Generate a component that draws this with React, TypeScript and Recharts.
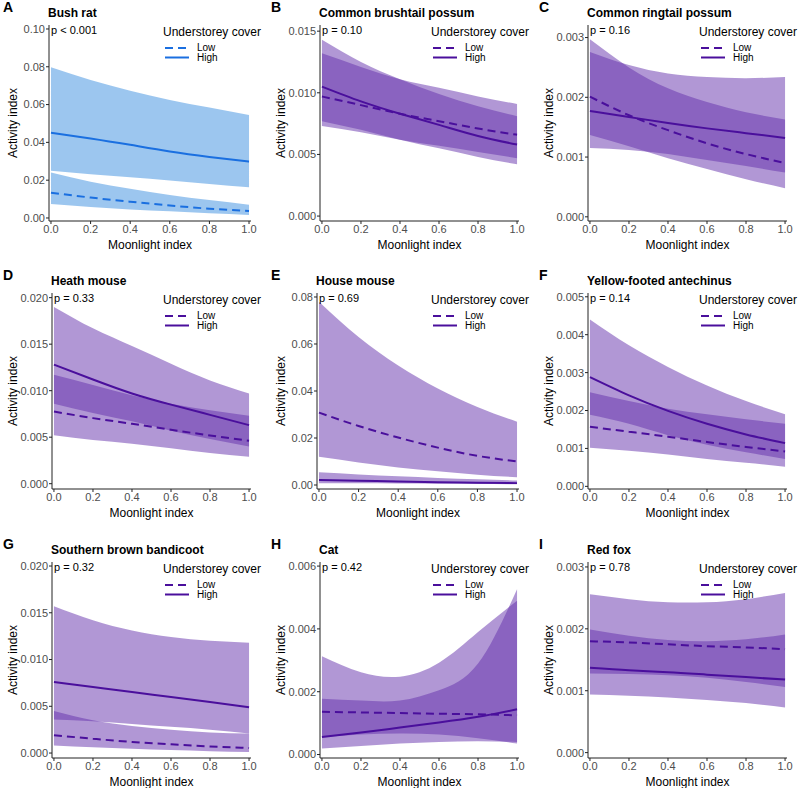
import { ComposedChart, Area, Line, XAxis, YAxis } from 'recharts'

// moonlight index positions the fitted curves were read at
const moonlight = [0, 0.2, 0.4, 0.6, 0.8, 1]
const xTicks = [0, 0.2, 0.4, 0.6, 0.8, 1]

// fitted activity + 95% CI for low / high understorey cover
const bushRat = {
  lowFit: [0.0134, 0.0108, 0.0086, 0.0066, 0.0049, 0.0037],
  lowLo: [0.0074, 0.0058, 0.0045, 0.0035, 0.0025, 0.0016],
  lowHi: [0.024, 0.0192, 0.0155, 0.0122, 0.0095, 0.007],
  highFit: [0.0451, 0.0421, 0.0387, 0.0352, 0.0323, 0.0298],
  highLo: [0.025, 0.0232, 0.0215, 0.0198, 0.018, 0.0162],
  highHi: [0.0797, 0.073, 0.0673, 0.0624, 0.0584, 0.0545],
}
const brushtail = {
  lowFit: [0.0097, 0.009, 0.0083, 0.0077, 0.0071, 0.0066],
  lowLo: [0.0073, 0.0068, 0.0062, 0.0057, 0.0052, 0.0047],
  lowHi: [0.0132, 0.0121, 0.0111, 0.0104, 0.0097, 0.0091],
  highFit: [0.0105, 0.0093, 0.0083, 0.0074, 0.0065, 0.0058],
  highLo: [0.0077, 0.007, 0.0062, 0.0055, 0.0048, 0.0042],
  highHi: [0.0143, 0.0125, 0.0111, 0.0099, 0.0089, 0.0081],
}
const ringtail = {
  lowFit: [0.00201, 0.0017, 0.00145, 0.00123, 0.00105, 0.0009],
  lowLo: [0.00137, 0.00118, 0.00098, 0.0008, 0.00063, 0.00048],
  lowHi: [0.00297, 0.0025, 0.00215, 0.00192, 0.00175, 0.00163],
  highFit: [0.00177, 0.00167, 0.00157, 0.00148, 0.0014, 0.00132],
  highLo: [0.00115, 0.00112, 0.00105, 0.00095, 0.00085, 0.00074],
  highHi: [0.00276, 0.00254, 0.0024, 0.00234, 0.00232, 0.00234],
}
const heathMouse = {
  lowFit: [0.00776, 0.00705, 0.00644, 0.0058, 0.00519, 0.00462],
  lowLo: [0.0052, 0.0047, 0.0043, 0.0038, 0.0033, 0.0029],
  lowHi: [0.0117, 0.0106, 0.0095, 0.0086, 0.0079, 0.0073],
  highFit: [0.0128, 0.0112, 0.0097, 0.0085, 0.0074, 0.0063],
  highLo: [0.0086, 0.0076, 0.0067, 0.0057, 0.0048, 0.004],
  highHi: [0.019, 0.0167, 0.0148, 0.0129, 0.0111, 0.0097],
}
const houseMouse = {
  lowFit: [0.0308, 0.0251, 0.0202, 0.0159, 0.0124, 0.01],
  lowLo: [0.012, 0.0096, 0.0075, 0.0058, 0.0044, 0.0033],
  lowHi: [0.078, 0.063, 0.0509, 0.0411, 0.0332, 0.0269],
  highFit: [0.0021, 0.0018, 0.0015, 0.0012, 0.001, 0.0008],
  highLo: [0.0008, 0.0007, 0.0006, 0.0005, 0.0004, 0.0003],
  highHi: [0.0054, 0.0045, 0.0037, 0.003, 0.0024, 0.0019],
}
const antechinus = {
  lowFit: [0.00157, 0.00144, 0.00131, 0.00117, 0.00104, 0.00092],
  lowLo: [0.00102, 0.00094, 0.00084, 0.00072, 0.00062, 0.00052],
  lowHi: [0.00248, 0.00225, 0.00205, 0.0019, 0.00177, 0.00165],
  highFit: [0.00288, 0.0024, 0.00199, 0.00165, 0.00137, 0.00114],
  highLo: [0.00189, 0.00165, 0.00135, 0.0011, 0.0009, 0.00072],
  highHi: [0.0044, 0.00372, 0.00315, 0.00266, 0.00225, 0.0019],
}
const bandicoot = {
  lowFit: [0.0019, 0.00153, 0.00118, 0.00093, 0.00071, 0.00053],
  lowLo: [0.00082, 0.00062, 0.00045, 0.00032, 0.0002, 0.0001],
  lowHi: [0.0045, 0.0035, 0.0029, 0.0025, 0.0022, 0.0021],
  highFit: [0.0076, 0.00706, 0.00652, 0.00599, 0.00545, 0.0049],
  highLo: [0.0036, 0.0034, 0.0031, 0.0028, 0.0025, 0.0021],
  highHi: [0.0157, 0.0142, 0.0131, 0.0124, 0.012, 0.0118],
}
const cat = {
  lowFit: [0.00136, 0.00134, 0.00132, 0.0013, 0.00128, 0.00125],
  lowLo: [0.00056, 0.00064, 0.00067, 0.00064, 0.00052, 0.00035],
  lowHi: [0.00313, 0.00262, 0.00248, 0.00292, 0.0039, 0.0049],
  highFit: [0.00056, 0.0007, 0.00086, 0.00102, 0.0012, 0.00144],
  highLo: [0.00019, 0.00027, 0.00035, 0.0004, 0.00042, 0.0004],
  highHi: [0.00178, 0.00172, 0.00172, 0.00205, 0.0029, 0.00526],
}
const redFox = {
  lowFit: [0.0018, 0.00178, 0.00175, 0.00172, 0.0017, 0.00167],
  lowLo: [0.00128, 0.00127, 0.00125, 0.00121, 0.00114, 0.00106],
  lowHi: [0.00256, 0.00248, 0.00243, 0.00243, 0.00248, 0.00258],
  highFit: [0.00137, 0.00133, 0.0013, 0.00126, 0.00122, 0.00118],
  highLo: [0.00094, 0.00092, 0.00089, 0.00085, 0.0008, 0.00073],
  highHi: [0.00199, 0.00189, 0.00182, 0.0018, 0.00183, 0.00191],
}

const letters = ['A', 'B', 'C', 'D', 'E', 'F', 'G', 'H', 'I']
const titles = [
  'Bush rat', 'Common brushtail possum', 'Common ringtail possum',
  'Heath mouse', 'House mouse', 'Yellow-footed antechinus',
  'Southern brown bandicoot', 'Cat', 'Red fox',
]
const pValues = ['p < 0.001', 'p = 0.10', 'p = 0.16', 'p = 0.33', 'p = 0.69', 'p = 0.14', 'p = 0.32', 'p = 0.42', 'p = 0.78']
const species = [bushRat, brushtail, ringtail, heathMouse, houseMouse, antechinus, bandicoot, cat, redFox]
const yTicks = [
  [0, 0.02, 0.04, 0.06, 0.08, 0.1],
  [0, 0.005, 0.01, 0.015],
  [0, 0.001, 0.002, 0.003],
  [0, 0.005, 0.01, 0.015, 0.02],
  [0, 0.02, 0.04, 0.06, 0.08],
  [0, 0.001, 0.002, 0.003, 0.004, 0.005],
  [0, 0.005, 0.01, 0.015, 0.02],
  [0, 0.002, 0.004, 0.006],
  [0, 0.001, 0.002, 0.003],
]
const yDomains = [
  [-0.0016, 0.1021],
  [-0.0004, 0.0155],
  [-0.00007, 0.00321],
  [-0.00057, 0.0205],
  [-0.0017, 0.0817],
  [-0.00007, 0.0051],
  [-0.00053, 0.02043],
  [-0.00011, 0.00613],
  [-0.000087, 0.00308],
]
const yDecimals = [2, 3, 3, 3, 2, 3, 3, 3, 3]

const colLeft = [0, 268, 536]
const rowTop = [0, 268, 537]
const PANEL_W = 263
const PANEL_H = 262

function Panel({ i }: { i: number }) {
  const s = species[i]
  const blue = i === 0
  const bandFill = blue ? '#3a8de0' : '#632fab'
  const lineColor = blue ? '#1a6fe0' : '#4a0f9c'
  const dec = yDecimals[i]
  const yW = dec === 2 ? 49 : 52

  const rows = moonlight.map((x, k) => ({
    x,
    low: s.lowFit[k],
    high: s.highFit[k],
    lowBand: [s.lowLo[k], s.lowHi[k]],
    highBand: [s.highLo[k], s.highHi[k]],
  }))

  const left = colLeft[i % 3]
  const top = rowTop[Math.floor(i / 3)]

  return (
    <div style={{ position: 'absolute', left, top, width: PANEL_W, height: PANEL_H }}>
      <ComposedChart width={PANEL_W} height={PANEL_H} data={rows} margin={{ top: 25, right: 12, bottom: 1, left: 0 }}>
        <XAxis
          type="number"
          dataKey="x"
          domain={[-0.01, 1.01]}
          ticks={xTicks}
          allowDataOverflow
          tickFormatter={(v: number) => v.toFixed(1)}
          height={40}
          tickSize={3}
          tickMargin={1}
          stroke="#222"
          tick={{ fontSize: 11, fill: '#4d4d4d' }}
          label={{ value: 'Moonlight index', position: 'insideBottom', offset: 12, fontSize: 12, fill: '#000' }}
        />
        <YAxis
          type="number"
          domain={yDomains[i]}
          ticks={yTicks[i]}
          allowDataOverflow
          tickFormatter={(v: number) => v.toFixed(dec)}
          width={yW}
          tickSize={3}
          tickMargin={1}
          stroke="#222"
          tick={{ fontSize: 11, fill: '#4d4d4d' }}
          label={{ value: 'Activity index', angle: -90, position: 'insideLeft', offset: 13, fontSize: 12, fill: '#000', style: { textAnchor: 'middle' } }}
        />
        <Area type="natural" dataKey="lowBand" stroke="none" fill={bandFill} fillOpacity={0.5} isAnimationActive={false} dot={false} activeDot={false} />
        <Area type="natural" dataKey="highBand" stroke="none" fill={bandFill} fillOpacity={0.5} isAnimationActive={false} dot={false} activeDot={false} />
        <Line type="natural" dataKey="low" stroke={lineColor} strokeWidth={2} strokeDasharray="8 5" dot={false} activeDot={false} isAnimationActive={false} />
        <Line type="natural" dataKey="high" stroke={lineColor} strokeWidth={2} dot={false} activeDot={false} isAnimationActive={false} />
      </ComposedChart>

      <div style={{ position: 'absolute', left: 3, top: 0, fontSize: 14, lineHeight: '14px', fontWeight: 700 }}>{letters[i]}</div>
      <div style={{ position: 'absolute', left: yW - 1, top: 6, fontSize: 12, lineHeight: '14px', fontWeight: 700, whiteSpace: 'nowrap' }}>{titles[i]}</div>
      <div style={{ position: 'absolute', left: yW + 2, top: 23, fontSize: 11, lineHeight: '14px', whiteSpace: 'nowrap' }}>{pValues[i]}</div>

      <div style={{ position: 'absolute', left: 163, top: 25, fontSize: 12, lineHeight: '14px', whiteSpace: 'nowrap' }}>Understorey cover</div>
      <svg style={{ position: 'absolute', left: 165, top: 42 }} width={26} height={20}>
        <line x1={0} x2={24} y1={6} y2={6} stroke={lineColor} strokeWidth={2} strokeDasharray="8 5" />
        <line x1={0} x2={24} y1={15.5} y2={15.5} stroke={lineColor} strokeWidth={2} />
      </svg>
      <div style={{ position: 'absolute', left: 197, top: 42, fontSize: 10, lineHeight: '12px' }}>Low</div>
      <div style={{ position: 'absolute', left: 197, top: 51.5, fontSize: 10, lineHeight: '12px' }}>High</div>
    </div>
  )
}

export default function App() {
  return (
    <div
      style={{
        position: 'fixed',
        left: 0,
        top: 0,
        width: 799,
        height: 788,
        overflow: 'hidden',
        background: '#fff',
        color: '#000',
        fontFamily: '"Liberation Sans", Arial, sans-serif',
      }}
    >
      {letters.map((_, i) => (
        <Panel key={i} i={i} />
      ))}
    </div>
  )
}
